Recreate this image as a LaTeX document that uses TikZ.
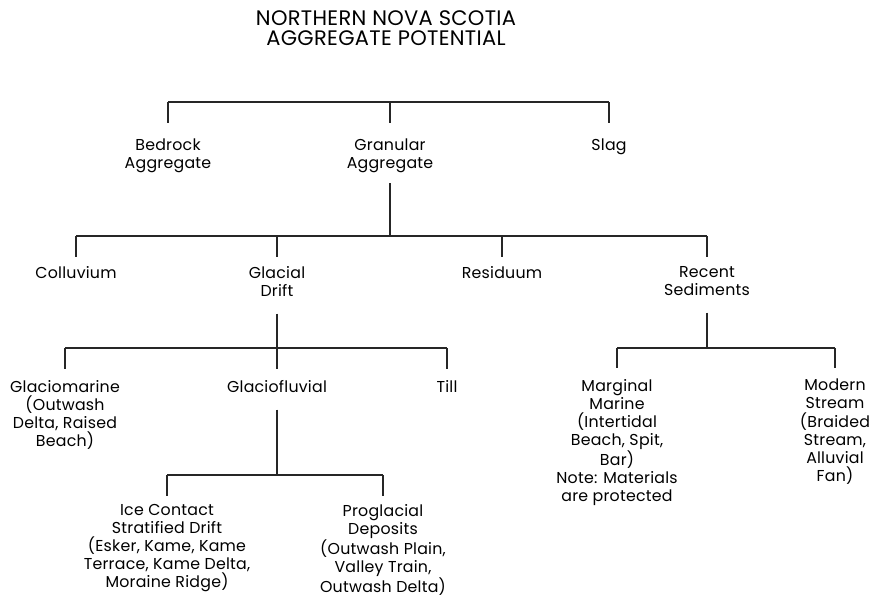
\documentclass[tikz,border=0pt]{standalone}
\usepackage{fontspec}
\setmainfont{Poppins}[LetterSpace=1.5]
\tikzset{
  unit/.style={align=center, inner sep=0pt, anchor=north, font=\fontsize{15.8}{18.1}\selectfont},
  link/.style={line width=1.3pt, draw=black!85},
}
\begin{document}
\begin{tikzpicture}[x=1pt,y=-1pt]
\useasboundingbox (0,0) rectangle (870,597);
\node[align=center, inner sep=0pt, anchor=north, font=\fontsize{21}{20.5}\selectfont] (title) at (386,10) {NORTHERN NOVA SCOTIA\\AGGREGATE POTENTIAL};
% aggregate types
\node[unit] (bedrock) at (168,139) {Bedrock\\Aggregate};
\node[unit] (granular) at (390,139) {Granular\\Aggregate};
\node[unit] (slag) at (609,139) {Slag};
% granular aggregate
\node[unit] (colluvium) at (76,266) {Colluvium};
\node[unit] (drift) at (277,266) {Glacial\\Drift};
\node[unit] (residuum) at (502,266) {Residuum};
\node[unit] (recent) at (707,266) {Recent\\Sediments};
% glacial drift
\node[unit] (glaciomarine) at (65,380) {Glaciomarine\\(Outwash\\Delta, Raised\\Beach)};
\node[unit] (glaciofluvial) at (277,380) {Glaciofluvial};
\node[unit] (till) at (447,380) {Till};
% recent sediments
\node[unit] (marginal) at (617,379) {Marginal\\Marine\\(Intertidal\\Beach, Spit,\\Bar)\\Note: Materials\\are protected};
\node[unit] (modern) at (835,379) {Modern\\Stream\\(Braided\\Stream,\\Alluvial\\Fan)};
% glaciofluvial
\node[unit] (icecontact) at (167,504) {Ice Contact\\Stratified Drift\\(Esker, Kame, Kame\\Terrace, Kame Delta,\\Moraine Ridge)};
\node[unit] (proglacial) at (383,504) {Proglacial\\Deposits\\(Outwash Plain,\\Valley Train,\\Outwash Delta)};
% bar levels
\coordinate (lv1) at (0,102);
\coordinate (lv2) at (0,236);
\coordinate (lv3) at (0,348);
\coordinate (lv4) at (0,475);
\draw[link] (bedrock |- lv1) -- (slag |- lv1);
\foreach \c in {bedrock,granular,slag} \draw[link,shorten >=16pt] (\c |- lv1) -- (\c.north);
\draw[link,shorten <=10pt] (granular.south) -- (granular |- lv2);
\draw[link] (colluvium |- lv2) -- (recent |- lv2);
\foreach \c in {colluvium,drift,residuum,recent} \draw[link,shorten >=9pt] (\c |- lv2) -- (\c.north);
\draw[link,shorten <=17pt] (drift.south) -- (drift |- lv3);
\draw[link] (glaciomarine |- lv3) -- (till |- lv3);
\foreach \c in {glaciomarine,glaciofluvial,till} \draw[link,shorten >=11pt] (\c |- lv3) -- (\c.north);
\draw[link,shorten <=17pt] (recent.south) -- (recent |- lv3);
\draw[link] (marginal |- lv3) -- (modern |- lv3);
\foreach \c in {marginal,modern} \draw[link,shorten >=11pt] (\c |- lv3) -- (\c.north);
\draw[link,shorten <=17pt] (glaciofluvial.south) -- (glaciofluvial |- lv4);
\draw[link] (icecontact |- lv4) -- (proglacial |- lv4);
\foreach \c in {icecontact,proglacial} \draw[link,shorten >=8pt] (\c |- lv4) -- (\c.north);
\end{tikzpicture}
\end{document}
